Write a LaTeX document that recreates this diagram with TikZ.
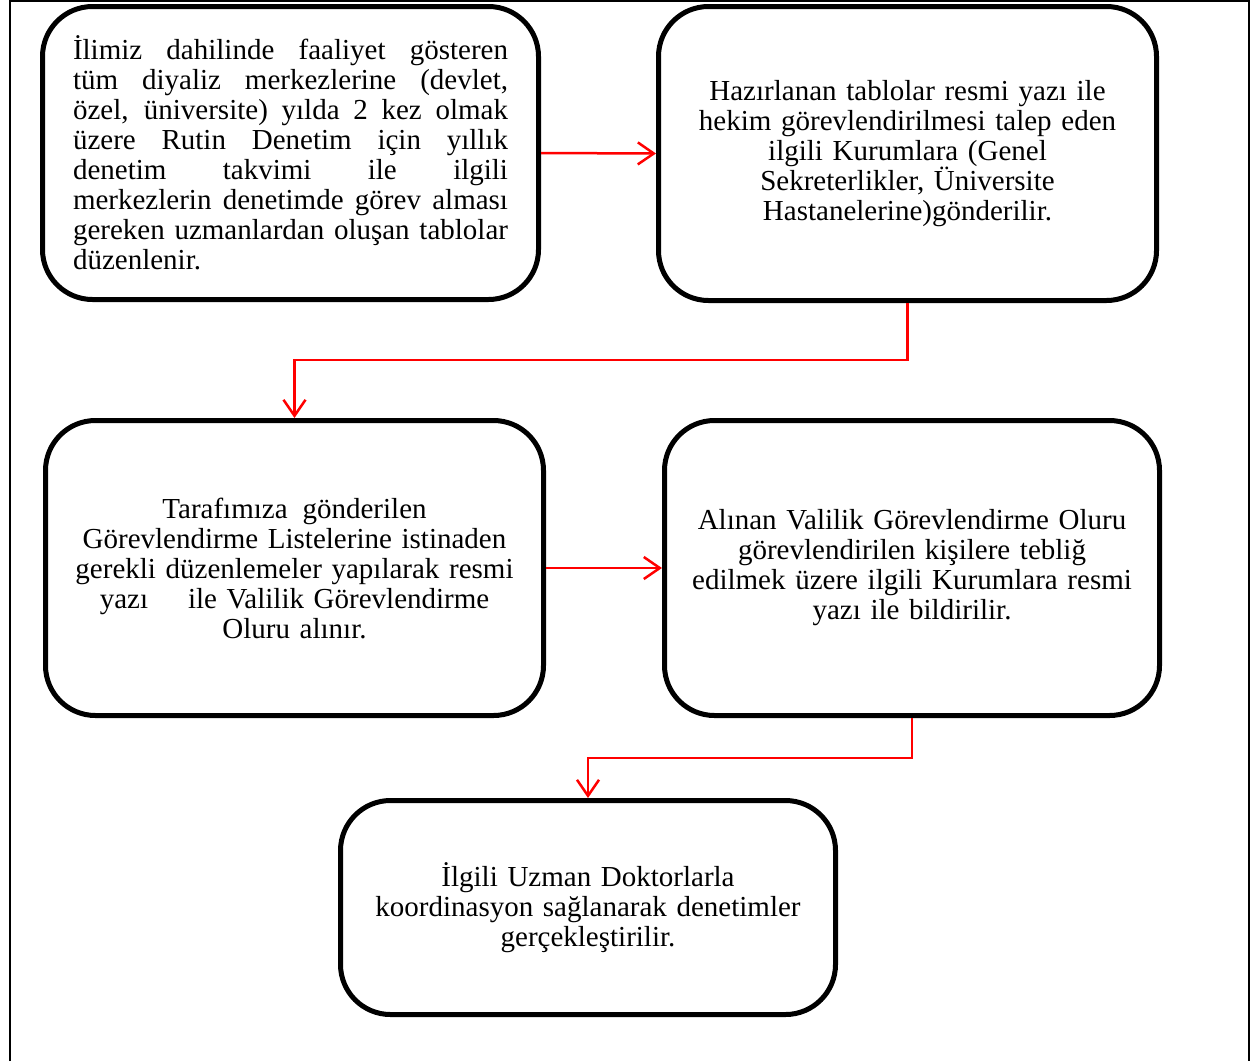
\documentclass[tikz,border=0pt]{standalone}
\usepackage{fontspec}
\setmainfont{Liberation Serif}
\usetikzlibrary{arrows.meta}
\begin{document}
\begin{tikzpicture}[x=1pt,y=-1pt,
  stepbox/.style={draw, line width=5pt, rounded corners=50pt, inner sep=0pt,
    align=center, text width=470pt, font=\fontsize{29}{30}\selectfont},
  flow/.style={draw=red, line width=2.5pt, -{Straight Barb[length=16pt,width=22pt]}}]
\useasboundingbox (0,0) rectangle (1252,1061);
% page frame
\draw[line width=2pt] (10,1061) -- (10,1) -- (1249,1) -- (1249,1061);

% process steps
\node[stepbox, minimum width=496pt, minimum height=293pt, text width=435pt, align=justify,
      execute at begin node={\tolerance=10000\hbadness=10000}] (b1) at (290.5,153)
  {İlimiz dahilinde faaliyet gösteren\linebreak
   tüm diyaliz merkezlerine (devlet,\linebreak
   özel, üniversite) yılda 2 kez olmak\linebreak
   üzere Rutin Denetim için yıllık\linebreak
   denetim takvimi ile ilgili\linebreak
   merkezlerin denetimde görev alması\linebreak
   gereken uzmanlardan oluşan tablolar\linebreak
   düzenlenir.};

\node[stepbox, minimum width=498pt, minimum height=294pt] (b2) at (907.5,153.5)
  {Hazırlanan tablolar resmi yazı ile\\
   hekim görevlendirilmesi talep eden\\
   ilgili Kurumlara (Genel\\
   Sekreterlikler, Üniversite\\
   Hastanelerine)gönderilir.};

\node[stepbox, minimum width=498pt, minimum height=295pt] (b3) at (294.5,568)
  {Tarafımıza\hspace{15pt}gönderilen\\
   Görevlendirme Listelerine istinaden\\
   gerekli düzenlemeler yapılarak resmi\\
   yazı\hspace{40pt}ile Valilik Görevlendirme\\
   Oluru alınır.};

\node[stepbox, minimum width=495pt, minimum height=295pt] (b4) at (912,568)
  {Alınan Valilik Görevlendirme Oluru\\
   görevlendirilen kişilere tebliğ\\
   edilmek üzere ilgili Kurumlara resmi\\
   yazı ile bildirilir.};

\node[stepbox, minimum width=495pt, minimum height=214pt] (b5) at (588,907.5)
  {İlgili Uzman Doktorlarla\\
   koordinasyon sağlanarak denetimler\\
   gerçekleştirilir.};

% connectors
\coordinate (m1) at (600,360);
\coordinate (m2) at (600,758);
\draw[flow] (b1.east) -- (b2.west);
\draw[flow] (b2.south) -- (b2.south |- m1) -| (b3.north);
\draw[flow] (b3.east) -- (b4.west);
\draw[flow] (b4.south) -- (b4.south |- m2) -| (b5.north);
\end{tikzpicture}
\end{document}
